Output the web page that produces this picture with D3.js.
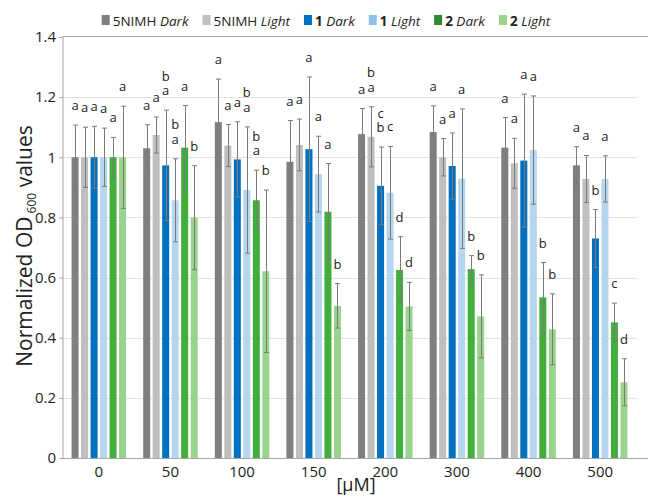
<!DOCTYPE html>
<html>
<head>
  <meta charset="utf-8">
  <title>Normalized OD600 values</title>
  <style>
    body { margin: 0; background: #fff; }
    svg { display: block; font-family: "Open Sans", sans-serif; }
    .grid line { stroke: #e3e3e3; }
    .axis path, .axis line { stroke: #a6a6a6; }
    .axis text { fill: #222; font-size: 15px; }
    .err { stroke: #7a7a7a; stroke-width: 1; }
    .letter { font-size: 13px; fill: #222; text-anchor: middle; }
  </style>
</head>
<body>
  <svg width="648" height="497"></svg>

  <script src="https://d3js.org/d3.v7.min.js"></script>
  <script>
    // concentrations on the x axis
    var concentrations = ['0', '50', '100', '150', '200', '300', '400', '500'];

    // series names and their legend parts
    var seriesKeys = ['nimhDark', 'nimhLight', 'oneDark', 'oneLight', 'twoDark', 'twoLight'];
    var seriesLabels = [
      ['5NIMH ', 'Dark'], ['5NIMH ', 'Light'],
      ['1', ' Dark'], ['1', ' Light'],
      ['2', ' Dark'], ['2', ' Light']
    ];
    var barColors = ['#7f7f7f', '#bfbfbf', '#0070c0', '#b4d6ef', '#42ae3c', '#98d48c'];
    var legendColors = ['#7f7f7f', '#bfbfbf', '#0070c0', '#8fc3ea', '#2f8a2f', '#98d48c'];

    // mean values, one array per series
    var nimhDark = [1.0, 1.03, 1.117, 0.985, 1.077, 1.084, 1.032, 0.973];
    var nimhLight = [1.0, 1.074, 1.039, 1.041, 1.068, 1.0, 0.98, 0.928];
    var oneDark = [1.0, 0.973, 0.993, 1.027, 0.905, 0.971, 0.989, 0.73];
    var oneLight = [1.0, 0.857, 0.891, 0.944, 0.882, 0.929, 1.024, 0.928];
    var twoDark = [1.0, 1.032, 0.857, 0.819, 0.625, 0.628, 0.534, 0.451];
    var twoLight = [1.0, 0.799, 0.621, 0.506, 0.504, 0.471, 0.428, 0.252];

    // error bar half-lengths
    var nimhDarkErr = [0.107, 0.078, 0.143, 0.137, 0.085, 0.087, 0.10, 0.062];
    var nimhLightErr = [0.10, 0.06, 0.07, 0.086, 0.10, 0.062, 0.083, 0.078];
    var oneDarkErr = [0.103, 0.184, 0.125, 0.24, 0.129, 0.11, 0.221, 0.096];
    var oneLightErr = [0.097, 0.138, 0.21, 0.126, 0.154, 0.232, 0.18, 0.077];
    var twoDarkErr = [0.066, 0.14, 0.10, 0.16, 0.111, 0.045, 0.116, 0.064];
    var twoLightErr = [0.17, 0.173, 0.27, 0.074, 0.08, 0.138, 0.118, 0.078];

    // significance letters per concentration, one entry per series (top line first)
    var letters = [
      ['a', 'a', 'a', 'a', 'a', 'a'],
      ['a', 'a', 'b a', 'b a', 'a', 'b'],
      ['a', 'a', 'a', 'b a', 'b a', 'b'],
      ['a', 'a', 'a', 'a', 'a', 'b'],
      ['a', 'b a', 'c b', 'c', 'd', 'd'],
      ['a', 'a', 'a', 'a', 'b', 'b'],
      ['a', 'a', 'a', 'a', 'b', 'b'],
      ['a', 'a', 'b', 'a', 'c', 'd']
    ];

    var yTicks = [0, 0.2, 0.4, 0.6, 0.8, 1, 1.2, 1.4];

    var means = [nimhDark, nimhLight, oneDark, oneLight, twoDark, twoLight];
    var errs = [nimhDarkErr, nimhLightErr, oneDarkErr, oneLightErr, twoDarkErr, twoLightErr];

    var svg = d3.select('svg');
    var plotLeft = 63, plotRight = 636, plotTop = 37, plotBottom = 458;

    var x0 = d3.scaleBand().domain(concentrations).range([plotLeft, plotRight]).padding(0);
    var x1 = d3.scaleBand().domain(seriesKeys).range([0, x0.bandwidth()])
      .paddingInner(0.26).paddingOuter(0.9);
    var y = d3.scaleLinear().domain([0, 1.4]).range([plotBottom, plotTop]);

    // gridlines
    svg.append('g').attr('class', 'grid')
      .selectAll('line').data(yTicks.slice(1, -1)).enter().append('line')
      .attr('x1', plotLeft).attr('x2', plotRight + 1)
      .attr('y1', function(d) { return Math.round(y(d)) + 0.5; })
      .attr('y2', function(d) { return Math.round(y(d)) + 0.5; });

    // top frame line
    svg.append('line')
      .attr('x1', plotLeft).attr('x2', 648)
      .attr('y1', Math.round(y(1.4)) - 0.5).attr('y2', Math.round(y(1.4)) - 0.5)
      .attr('stroke', '#a6a6a6');

    // flatten to one record per bar
    var rows = [];
    concentrations.forEach(function(c, ci) {
      seriesKeys.forEach(function(k, si) {
        rows.push({ conc: c, key: k, si: si, value: means[si][ci], err: errs[si][ci], letter: letters[ci][si] });
      });
    });

    var barG = svg.append('g');
    barG.selectAll('rect').data(rows).enter().append('rect')
      .attr('x', function(d) { return x0(d.conc) + x1(d.key); })
      .attr('width', x1.bandwidth())
      .attr('y', function(d) { return y(d.value); })
      .attr('height', function(d) { return y(0) - y(d.value); })
      .attr('fill', function(d) { return barColors[d.si]; });

    // error bars
    var errG = svg.append('g').attr('class', 'err');
    rows.forEach(function(d) {
      var cx = Math.round(x0(d.conc) + x1(d.key) + x1.bandwidth() / 2) + 0.5;
      var yt = y(d.value + d.err), yb = y(d.value - d.err);
      errG.append('line').attr('x1', cx).attr('x2', cx).attr('y1', yt).attr('y2', yb);
      errG.append('line').attr('x1', cx - 2.5).attr('x2', cx + 2.5).attr('y1', yt).attr('y2', yt);
      errG.append('line').attr('x1', cx - 2.5).attr('x2', cx + 2.5).attr('y1', yb).attr('y2', yb);
    });

    // significance letters
    var letG = svg.append('g');
    rows.forEach(function(d) {
      var cx = x0(d.conc) + x1(d.key) + x1.bandwidth() / 2;
      var parts = d.letter.split(' ');
      var base = y(d.value + d.err) - 15;
      parts.forEach(function(p, i) {
        letG.append('text').attr('class', 'letter')
          .attr('x', cx)
          .attr('y', base - (parts.length - 1 - i) * 14.5)
          .text(p);
      });
    });

    // axes
    var yAxis = d3.axisLeft(y).tickValues(yTicks).tickSize(4).tickPadding(3)
      .tickFormat(function(d) { return d3.format('~g')(d); });
    var gy = svg.append('g').attr('class', 'axis').attr('transform', 'translate(' + plotLeft + ',0)').call(yAxis);
    gy.attr('font-size', null).attr('font-family', null);
    gy.select('.domain').attr('d', 'M0,' + plotTop + 'V' + plotBottom);

    var xAxis = d3.axisBottom(x0).tickSize(0).tickPadding(8);
    var gx = svg.append('g').attr('class', 'axis').attr('transform', 'translate(0,' + plotBottom + ')').call(xAxis);
    gx.attr('font-size', null).attr('font-family', null);
    gx.select('.domain').attr('d', 'M' + plotLeft + ',0.5H648');

    // axis titles
    svg.append('text')
      .attr('x', 356).attr('y', 491)
      .attr('text-anchor', 'middle').attr('font-size', 18).attr('fill', '#222')
      .text('[μM]');

    var yTitle = svg.append('text')
      .attr('transform', 'translate(32,246) rotate(-90)')
      .attr('text-anchor', 'middle').attr('font-size', 21).attr('fill', '#222');
    yTitle.append('tspan').text('Normalized OD');
    yTitle.append('tspan').attr('font-size', 12).attr('dy', 4).text(' 600');
    yTitle.append('tspan').attr('dy', -4).text(' values');

    // legend
    var legend = svg.append('g');
    var lx = 0;
    seriesLabels.forEach(function(lab, i) {
      var item = legend.append('g').attr('transform', 'translate(' + lx + ',0)');
      item.append('rect').attr('x', 0).attr('y', -11).attr('width', 8).attr('height', 10)
        .attr('fill', legendColors[i]);
      var t = item.append('text').attr('x', 11).attr('y', 0).attr('font-size', 13.5).attr('fill', '#222');
      if (i < 2) {
        t.append('tspan').text(lab[0]);
        t.append('tspan').attr('font-style', 'italic').text(lab[1]);
      } else {
        t.append('tspan').attr('font-weight', 'bold').text(lab[0]);
        t.append('tspan').attr('font-style', 'italic').text(lab[1]);
      }
      lx += 11 + t.node().getComputedTextLength() + 14;
    });
    var lw = lx - 14;
    legend.attr('transform', 'translate(' + (326 - lw / 2) + ',26)');
  </script>
</body>
</html>
